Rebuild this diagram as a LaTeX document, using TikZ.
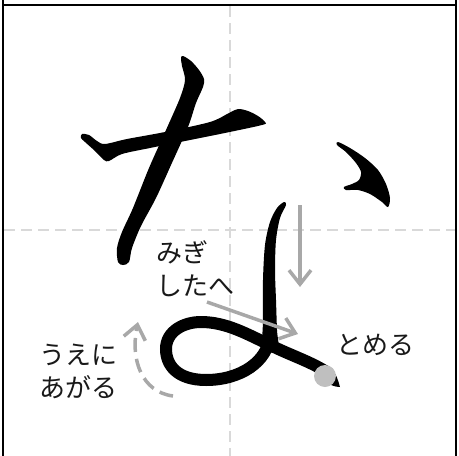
\documentclass[tikz,border=0pt]{standalone}
\usepackage{fontspec}
\newfontfamily\jp{Noto Sans CJK JP}
\usetikzlibrary{arrows.meta}
\definecolor{guidegray}{HTML}{D9D9D9}
\definecolor{arrowgray}{HTML}{A8A8A8}
\definecolor{dotgray}{HTML}{BFBFBF}
\begin{document}
\begin{tikzpicture}[x=1pt,y=-1pt,
  framel/.style={draw=black,line width=2.5pt},
  guideline/.style={draw=guidegray,line width=2.5pt,dash pattern=on 11pt off 6pt},
  ink/.style={fill=black,draw=none},
  garrow/.style={draw=arrowgray,line width=3.5pt,-{Straight Barb[length=14pt,width=22pt]}},
  lbl/.style={font=\jp\fontsize{26}{33}\selectfont,inner sep=0pt,align=left,text=black!90}]
\useasboundingbox (0,0) rectangle (459,456);
% guides
\draw[guideline] (230,6) -- (230,456);
\draw[guideline] (4,230) -- (455,230);
% frame
\draw[framel] (3,0) -- (3,456);
\draw[framel] (456,0) -- (456,456);
\draw[framel] (3,5) -- (456,5);
% stroke 1
\fill[ink] plot[smooth cycle,tension=0.5] coordinates {
 (82,134) (89,135) (97,141) (105,144) (127,139) (165,132) (210,122) (229,113)
 (238,109) (248,111) (258,116) (265,122) (262,125) (220,134) (180,142) (150,148)
 (122,154) (109,161) (104,160) (95,151) (85,142) (81,138)};
% stroke 2
\fill[ink] plot[smooth cycle,tension=0.5] coordinates {
 (183,56) (191,61) (199,70) (204,79) (203,87) (196,103) (188,127) (171,165)
 (156,198) (141,226) (132,248) (129,262) (123,265) (118,262) (117,248) (122,232)
 (133,208) (149,168) (166,130) (180,98) (185,80) (182,66) (181,58)};
% stroke 3
\fill[ink] plot[smooth cycle,tension=0.5] coordinates {
 (338,142) (350,148) (365,158) (378,170) (386,184) (390,198) (388,207) (382,202)
 (370,194) (358,190) (346,190) (344,187) (352,184) (359,180) (361,172) (356,163)
 (346,152) (337,145)};
% stroke 4 vertical
\fill[ink] plot[smooth cycle,tension=0.5] coordinates {
 (284,202) (286,205) (280,218) (276,240) (275,270) (276,300) (277,330) (278,350)
 (263,350) (263,320) (263,280) (265,245) (270,222) (277,208)};
% stroke 4 loop
\draw[black,line width=12pt,line cap=round] (270,335)
  .. controls (268,362) and (240,380) .. (206,380)
  .. controls (177,380) and (166,365) .. (166,349)
  .. controls (166,331) and (184,322) .. (201,322)
  .. controls (226,322) and (247,334) .. (270,345)
  .. controls (292,356) and (312,362) .. (328,373);
\fill[ink] (330,368) .. controls (336,372) and (338,380) .. (340,387)
  .. controls (335,387) and (330,385) .. (326,382) -- cycle;
\fill[dotgray] (325,376) circle[radius=11];
% guide arrows
\coordinate (a1s) at (300,205);
\coordinate (a1e) at (300,287);
\coordinate (a2s) at (207,302);
\coordinate (a2e) at (298,334);
\coordinate (a3s) at (173,396);
\coordinate (a3e) at (138,322);
\draw[garrow] (a1s) -- (a1e);
\draw[garrow] (a2s) -- (a2e);
\draw[garrow,dash pattern=on 14pt off 7pt] (a3s) .. controls (142,392) and (130,360) .. (a3e);
% labels
\node[lbl,anchor=west] (migi) at (156,269) {みぎ\\したへ};
\node[lbl,anchor=west] (tomeru) at (336,345) {とめる};
\node[lbl,anchor=west] (ueni) at (39,371) {うえに\\あがる};
\end{tikzpicture}
\end{document}
